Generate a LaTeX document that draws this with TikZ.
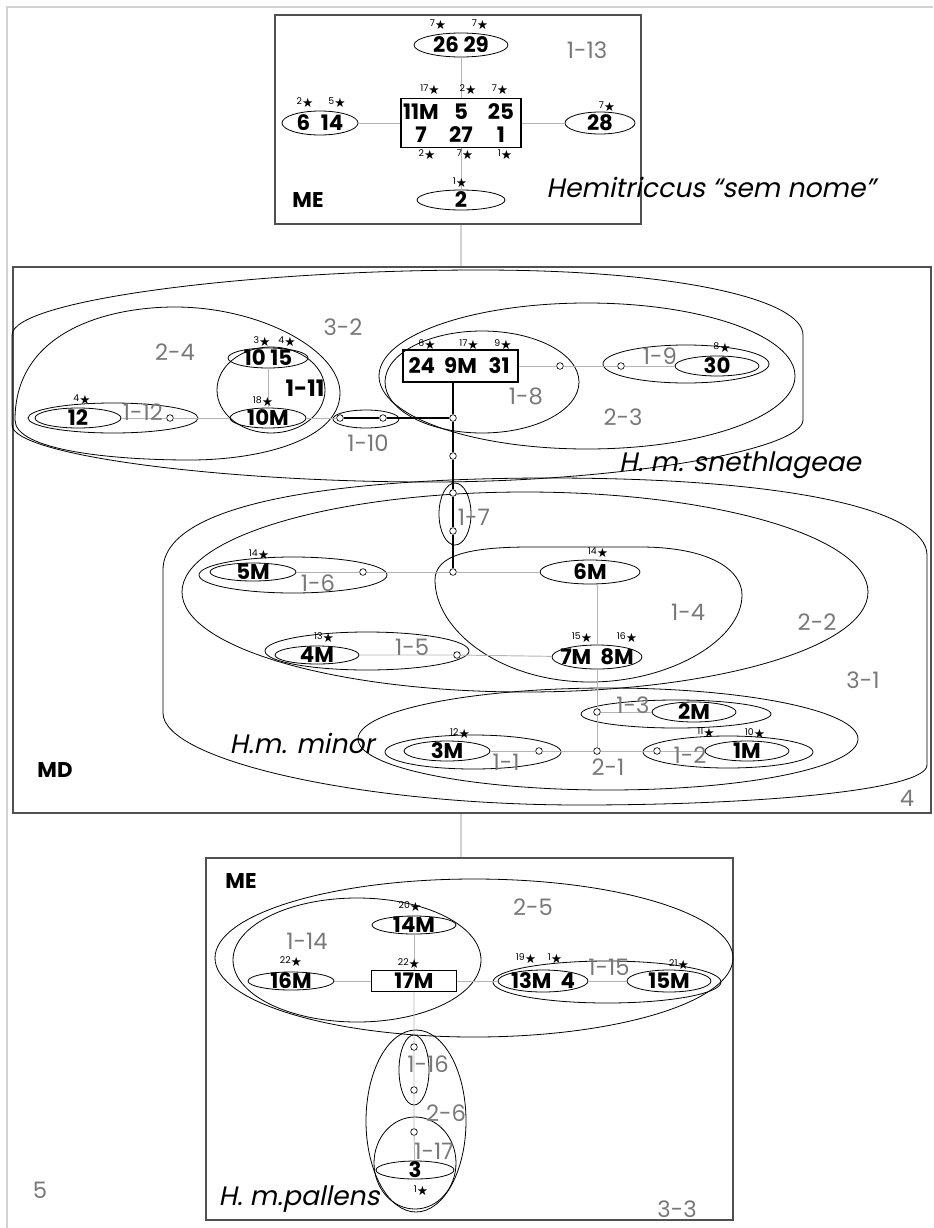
\documentclass[tikz,border=0pt]{standalone}
\usepackage{fontspec}
\setmainfont{Poppins}
\newfontfamily\symfont{DejaVu Sans}
\newfontfamily\slfont[FakeSlant=0.2]{Poppins}
\usetikzlibrary{shapes.geometric}

\definecolor{cladegray}{HTML}{787878}
\definecolor{linkgray}{HTML}{B4B4B4}
\definecolor{framegray}{HTML}{505050}
\definecolor{pagegray}{HTML}{D2D2D2}

\newcommand\numfont{\fontsize{16}{17}\selectfont\bfseries}
\newcommand\cladefont{\fontsize{17}{18}\selectfont}
\newcommand\taxfont{\slfont\fontsize{20}{22}\selectfont}
\newcommand\stmark[1]{\raisebox{2.2pt}{\fontsize{7}{7}\selectfont #1}{\symfont\fontsize{9.5}{10}\selectfont ★}}

\begin{document}
\begin{tikzpicture}[x=0.75pt, y=-0.75pt,
  oval/.style 2 args={draw, ellipse, inner sep=0pt, line width=0.6pt, minimum width=#1*1.5pt, minimum height=#2*1.5pt},
  pxbox/.style 2 args={draw, rectangle, inner sep=0pt, minimum width=#1*0.75pt, minimum height=#2*0.75pt},
  region/.style={draw=framegray, line width=0.9pt},
  tbox/.style={line width=1pt, align=center, font=\numfont},
  hub/.style={draw, circle, fill=white, inner sep=0pt, minimum size=5pt, line width=0.5pt},
  num/.style={font=\numfont, inner sep=0pt},
  clade/.style={text=cladegray, font=\cladefont, inner sep=0pt},
  taxon/.style={font=\taxfont, inner sep=0pt},
  starlbl/.style={inner sep=0pt},
  link/.style={draw=linkgray, line width=0.7pt},
  axis/.style={draw=black, line width=0.9pt},
  pageline/.style={draw=pagegray, line width=0.8pt}]

\useasboundingbox (0,0) rectangle (933,1228);
\draw[pageline] (7,1228) -- (7,7) -- (933,7);

%% the three regions
\node[pxbox={366}{209}, region] (boxME) at (458,119.5) {};
\node[pxbox={918}{546}, region] (boxMD) at (472,540) {};
\node[pxbox={527}{362}, region] (boxMEb) at (469.5,1039) {};

%% ===== ME (top) =====
\node[oval={47}{12}, label={[num]center:26~29}] (e2629) at (461,45) {};
\node[pxbox={117}{49}, tbox] (rA) at (461,123)
  {\makebox[30pt]{11M}\makebox[30pt]{5}\makebox[30pt]{25}\\\makebox[30pt]{7}\makebox[30pt]{27}\makebox[30pt]{1}};
\node[oval={38}{12}, label={[num]center:6\hspace{8pt}14}] (e614) at (320,123) {};
\node[oval={35}{11}, label={[num]center:28}] (e28) at (600,123) {};
\node[oval={44}{10}, label={[num]center:2}] (e2) at (461,200) {};

\draw[link] (e2629) -- (rA);
\draw[link] (e614) -- (rA);
\draw[link] (rA) -- (e28);
\draw[link] (rA) -- (e2);

\foreach \n/\x/\y [count=\i] in {7/438/25, 7/480/25, 17/430/90, 2/468/90, 7/500/90, 2/305/103,
    5/337/103, 7/607/107, 2/427/155, 7/465/155, 1/505/155, 1/460/183}
  \node[starlbl] (stA\i) at (\x,\y) {\stmark{\n}};

\node[clade] (lab113) at (587,50) {1-13};
\node[num] (meA) at (308,200) {ME};
\node[taxon] (taxA) at (711,187) {Hemitriccus “sem nome”};

%% links between regions
\draw[pageline] (boxME.south -| e2) -- (boxMD.north -| e2);
\draw[pageline] (boxMD.south -| e2) -- (boxMEb.north -| e2);

%% ===== MD =====
%% 3-2 (snethlageae)
\draw[line width=0.6pt] (12,425) -- (12,335) .. controls (12,300) and (250,270) .. (480,270)
  .. controls (680,270) and (803,300) .. (803,335) -- (803,420)
  .. controls (803,450) and (620,482) .. (430,482) .. controls (220,482) and (12,455) .. (12,425) -- cycle;
%% 2-4
\draw[line width=0.6pt] (15,420) .. controls (15,330) and (110,307) .. (175,307)
  .. controls (260,307) and (340,350) .. (340,393) .. controls (340,440) and (260,460) .. (190,460)
  .. controls (110,460) and (15,450) .. (15,420) -- cycle;
\node[oval={54}{43}] (c111) at (271,390) {};
\node[oval={85}{15}] (c112) at (113,418) {};
\node[oval={33}{9}] (c110) at (366,419) {};
\node[oval={208}{73}] (c23) at (587,376) {};
\node[oval={97}{51}] (c18) at (482,382) {};
\node[oval={83}{19}] (c19) at (686,364) {};

\node[oval={43}{10}, label={[num]center:12}] (e12) at (78,418) {};
\node[oval={40}{10}, label={[num]center:10~15}] (e1015) at (268,358) {};
\node[oval={38}{10}, label={[num]center:10M}] (e10M) at (268,418) {};
\node[pxbox={115}{32}, tbox] (r9M) at (460.5,366)
  {\makebox[28pt]{24}\makebox[30pt]{9M}\makebox[28pt]{31}};
\node[oval={42}{10}, label={[num]center:30}] (e30) at (717,366) {};

%% 3-1 (minor)
\draw[line width=0.6pt] (163,713) -- (163,570) .. controls (163,500) and (350,478) .. (550,478)
  .. controls (790,478) and (927,510) .. (927,555) -- (927,765)
  .. controls (927,790) and (760,805) .. (580,805) .. controls (360,805) and (163,760) .. (163,713) -- cycle;
\node[oval={343}{100}] (c22) at (525,592) {};
%% 1-4
\draw[line width=0.6pt] (435,580) .. controls (435,555) and (470,547) .. (530,547) -- (640,547)
  .. controls (710,547) and (742,570) .. (742,595) .. controls (742,640) and (670,682) .. (590,682)
  .. controls (500,682) and (435,630) .. (435,580) -- cycle;
\node[oval={16}{31}] (c17) at (455,514) {};
\node[oval={94}{18}] (c16) at (293,575) {};
\node[oval={102}{19}] (c15) at (367,651) {};
\node[oval={250}{51}] (c21) at (608,739) {};
\node[oval={95}{14}] (c13) at (676,714) {};
\node[oval={85}{16}] (c12) at (728,752) {};
\node[oval={88}{17}] (c11) at (473,752) {};

\node[oval={43}{9}, label={[num]center:5M}] (e5M) at (253,572) {};
\node[oval={50}{12}, label={[num]center:6M}] (e6M) at (590,572) {};
\node[oval={42}{9}, label={[num]center:4M}] (e4M) at (317,655) {};
\node[oval={45}{12}, label={[num]center:7M~~8M}] (e78M) at (597,657) {};
\node[oval={42}{10}, label={[num]center:2M}] (e2M) at (694,712) {};
\node[oval={42}{10}, label={[num]center:1M}] (e1M) at (747,751) {};
\node[oval={43}{10}, label={[num]center:3M}] (e3M) at (447,751) {};

%% hubs
\node[hub] (h112) at (170,418) {};
\node[hub] (h110a) at (340,418) {};
\node[hub] (h110b) at (383,418) {};
\node[hub] (hj1) at (453,418) {};
\node[hub] (hj2) at (453,456) {};
\node[hub] (h18) at (560,366) {};
\node[hub] (h19) at (621,366) {};
\node[hub] (h17a) at (453,493) {};
\node[hub] (h17b) at (453,531) {};
\node[hub] (h14) at (453,572) {};
\node[hub] (h16) at (363,572) {};
\node[hub] (h15) at (457,655) {};
\node[hub] (h13) at (597,712) {};
\node[hub] (h21) at (597,751) {};
\node[hub] (h12) at (657,751) {};
\node[hub] (h11) at (539,751) {};

%% connectors
\draw[link] (e12) -- (h112) -- (e10M) -- (h110a);
\draw[link] (e1015) -- (e10M);
\draw[link] (r9M) -- (h18) -- (h19) -- (e30);
\draw[axis] (h110a) -- (h110b) -- (hj1);
\draw[axis] (hj1 |- r9M.south) -- (hj1) -- (hj2) -- (h17a) -- (h17b) -- (h14);
\draw[link] (e5M) -- (h16) -- (h14) -- (e6M);
\draw[link] (e4M) -- (h15) -- (e78M);
\draw[link] (h13 |- e6M.south) -- (e78M);
\draw[link] (e78M) -- (h13) -- (h21);
\draw[link] (h13) -- (e2M);
\draw[link] (e3M) -- (h11) -- (h21) -- (h12) -- (e1M);

\foreach \n/\x/\y [count=\i] in {4/82/400, 3/262/342, 4/287/342, 18/263/402, 6/427/345, 17/469/345,
    9/503/345, 8/722/348, 14/259/555, 14/598/553, 13/324/638, 15/582/638, 16/627/638,
    12/460/734, 11/706/733, 10/755/734}
  \node[starlbl] (stM\i) at (\x,\y) {\stmark{\n}};

\foreach \t/\x/\y [count=\i] in {2-4/175/352, 3-2/343/327, 1-12/143/412, 1-10/368/443, 1-8/526/396,
    1-9/660/356, 2-3/623/417, 1-7/474/517, 1-6/318/583, 1-5/412/647, 1-4/688/612, 2-2/817/622,
    3-1/863/680, 1-3/633/705, 1-2/690/755, 1-1/506/762, 2-1/608/767, 4/907/798}
  \node[clade] (labM\i) at (\x,\y) {\t};
\node[clade, text=black, font=\cladefont\bfseries] (lab111) at (305,388) {1-11};

\node[num] (md) at (55,770) {MD};
\node[taxon] (taxS) at (740,465) {H. m. snethlageae};
\node[taxon] (taxM) at (302,743) {H.m. minor};

%% ===== ME (bottom) =====
\node[oval={259}{79}] (c25) at (474,958) {};
\node[oval={124}{62}] (c114) at (357,960) {};
\node[oval={114}{21}] (c115) at (607,982) {};
\node[oval={50}{91}] (c26) at (416,1121) {};
\node[oval={15}{35}] (c116) at (414,1070) {};
\node[oval={41}{46}] (c117) at (415,1163) {};

\node[oval={42}{9}, label={[num]center:14M}] (e14M) at (414,925) {};
\node[pxbox={85}{21}, tbox] (r17M) at (414,981) {17M};
\node[oval={43}{9}, label={[num]center:16M}] (e16M) at (291,981) {};
\node[oval={45}{11}, label={[num]center:13M~~4}] (e13M4) at (543,981) {};
\node[oval={42}{11}, label={[num]center:15M}] (e15M) at (669,981) {};
\node[oval={39}{9}, label={[num]center:3}] (e3) at (415,1170) {};

\node[hub] (h116a) at (414,1047) {};
\node[hub] (h116b) at (414,1090) {};
\node[hub] (h117) at (414,1132) {};

\draw[link] (e16M) -- (r17M) -- (e13M4) -- (e15M);
\draw[link] (e14M) -- (r17M);
\draw[link] (r17M) -- (h116a) -- (h116b) -- (h117) -- (e3);

\foreach \n/\x/\y [count=\i] in {20/410/907, 22/291/962, 22/409/964, 19/526/959, 1/555/959,
    21/679/965, 1/421/1191}
  \node[starlbl] (stB\i) at (\x,\y) {\stmark{\n}};

\foreach \t/\x/\y [count=\i] in {2-5/533/907, 1-14/307/941, 1-15/609/967, 1-16/428/1064,
    2-6/446/1113, 1-17/434/1151, 3-3/677/1209, 5/40/1190}
  \node[clade] (labB\i) at (\x,\y) {\t};

\node[num] (meB) at (241,881) {ME};
\node[taxon] (taxP) at (299,1199) {H. m.pallens};

\end{tikzpicture}
\end{document}
